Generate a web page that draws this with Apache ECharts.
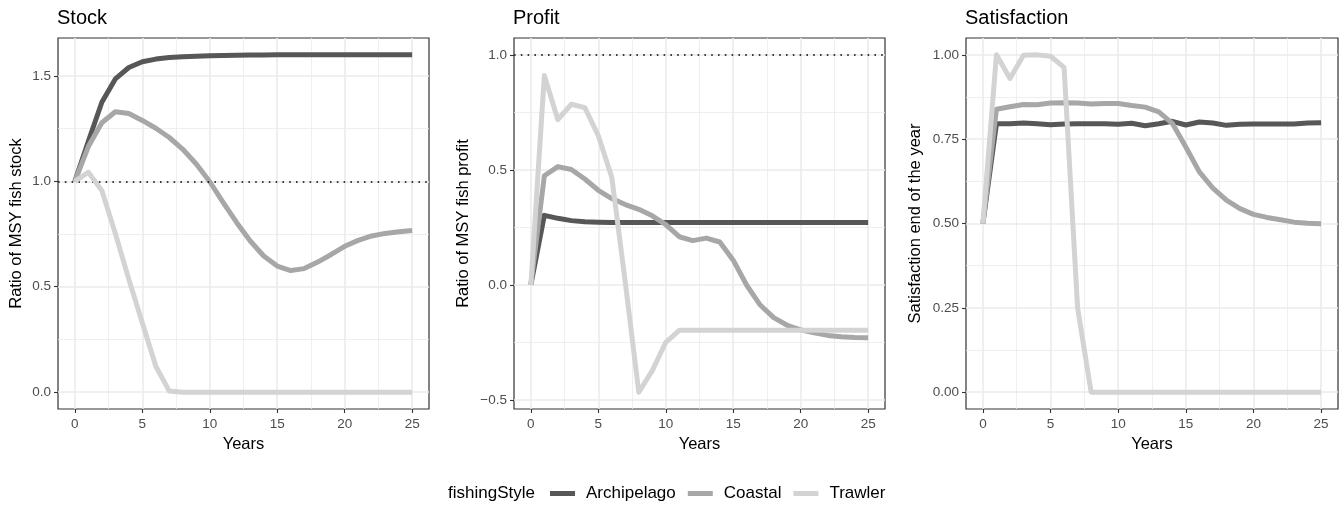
<!DOCTYPE html>
<html>
<head>
<meta charset="utf-8">
<script src="https://cdn.jsdelivr.net/npm/echarts@6/dist/echarts.min.js"></script>
<style>
  html, body { margin: 0; padding: 0; background: #fff; }
  #chart { width: 1341px; height: 521px; }
</style>
</head>
<body>
<div id="chart"></div>
<script>
// Simulated fishery outcomes per fishing style, yearly from 0 to 25
const years = [0,1,2,3,4,5,6,7,8,9,10,11,12,13,14,15,16,17,18,19,20,21,22,23,24,25];
const styles = ['Archipelago', 'Coastal', 'Trawler'];

// Stock (ratio of MSY fish stock)
const stockArchipelago = [1.000,1.190,1.375,1.486,1.540,1.567,1.580,1.587,1.591,1.594,1.596,1.597,1.598,1.599,1.599,1.600,1.600,1.600,1.600,1.600,1.600,1.600,1.600,1.600,1.600,1.600];
const stockCoastal     = [1.000,1.165,1.278,1.330,1.322,1.289,1.252,1.208,1.152,1.082,0.998,0.899,0.804,0.717,0.646,0.598,0.577,0.586,0.617,0.653,0.692,0.720,0.741,0.753,0.761,0.767];
const stockTrawler     = [1.000,1.043,0.956,0.752,0.535,0.329,0.123,0.005,0,0,0,0,0,0,0,0,0,0,0,0,0,0,0,0,0,0];

// Profit (ratio of MSY fish profit)
const profitArchipelago = [0,0.302,0.289,0.279,0.274,0.272,0.271,0.271,0.271,0.271,0.271,0.271,0.271,0.271,0.271,0.271,0.271,0.271,0.271,0.271,0.271,0.271,0.271,0.271,0.271,0.271];
const profitCoastal     = [0,0.474,0.514,0.501,0.460,0.411,0.375,0.349,0.328,0.300,0.262,0.209,0.192,0.203,0.186,0.107,-0.002,-0.088,-0.143,-0.176,-0.196,-0.209,-0.220,-0.226,-0.229,-0.230];
const profitTrawler     = [0,0.910,0.718,0.785,0.770,0.648,0.467,0.010,-0.467,-0.373,-0.250,-0.198,-0.198,-0.198,-0.198,-0.198,-0.198,-0.198,-0.198,-0.198,-0.198,-0.198,-0.198,-0.198,-0.198,-0.198];

// Satisfaction at the end of each year
const satisArchipelago = [0.5,0.796,0.796,0.798,0.796,0.793,0.795,0.796,0.796,0.796,0.794,0.797,0.790,0.796,0.803,0.792,0.801,0.798,0.791,0.794,0.795,0.795,0.795,0.795,0.798,0.799];
const satisCoastal     = [0.5,0.839,0.846,0.853,0.852,0.857,0.858,0.857,0.854,0.856,0.856,0.850,0.845,0.831,0.797,0.727,0.653,0.605,0.569,0.544,0.527,0.518,0.511,0.504,0.501,0.499];
const satisTrawler     = [0.5,1.000,0.930,0.999,1.000,0.996,0.963,0.250,0,0,0,0,0,0,0,0,0,0,0,0,0,0,0,0,0,0];

// Axis ticks
const xTicks = [0,5,10,15,20,25];
const xMinor = [2.5,7.5,12.5,17.5,22.5];
const stockTicks = [0,0.5,1,1.5];
const stockTickLabels = ['0.0','0.5','1.0','1.5'];
const stockMinor = [0.25,0.75,1.25];
const profitTicks = [-0.5,0,0.5,1];
const profitTickLabels = ['\u22120.5','0.0','0.5','1.0'];
const profitMinor = [-0.25,0.25,0.75];
const satisTicks = [0,0.25,0.5,0.75,1];
const satisTickLabels = ['0.00','0.25','0.50','0.75','1.00'];
const satisMinor = [0.125,0.375,0.625,0.875];

const colors = { Archipelago: '#575757', Coastal: '#a7a7aa', Trawler: '#d3d3d3' };
const FONT = '"Liberation Sans", Arial, Helvetica, sans-serif';

const panels = [
  { title: 'Stock', yName: 'Ratio of MSY fish stock', left: 58, width: 371, yMin: -0.080, yMax: 1.680,
    ticks: stockTicks, labels: stockTickLabels, minor: stockMinor, refLine: 1, nameGap: 33,
    data: [stockArchipelago, stockCoastal, stockTrawler] },
  { title: 'Profit', yName: 'Ratio of MSY fish profit', left: 514, width: 371, yMin: -0.540, yMax: 1.073,
    ticks: profitTicks, labels: profitTickLabels, minor: profitMinor, refLine: 1, nameGap: 42,
    data: [profitArchipelago, profitCoastal, profitTrawler] },
  { title: 'Satisfaction', yName: 'Satisfaction end of the year', left: 966, width: 372, yMin: -0.05, yMax: 1.05,
    ticks: satisTicks, labels: satisTickLabels, minor: satisMinor, refLine: null, nameGap: 42,
    data: [satisArchipelago, satisCoastal, satisTrawler] }
];

const PANEL_TOP = 38, PANEL_H = 371;
const grid = [], xAxis = [], yAxis = [], series = [], title = [];
const majorLine = { show: true, lineStyle: { color: '#ebebeb', width: 1.6 } };
const minorLine = { show: true, lineStyle: { color: '#ebebeb', width: 0.8 } };

panels.forEach((p, i) => {
  grid.push({ left: p.left, top: PANEL_TOP, width: p.width, height: PANEL_H,
    show: true, borderColor: '#333333', borderWidth: 1.2, backgroundColor: 'transparent', containLabel: false });
  title.push({ text: p.title, left: p.left - 1, top: 8, padding: 0,
    textStyle: { fontFamily: FONT, fontSize: 20, fontWeight: 'normal', color: '#000' } });

  // major x axis
  xAxis.push({ type: 'value', gridIndex: i, min: -1.25, max: 26.25, position: 'bottom',
    name: 'Years', nameLocation: 'middle', nameGap: 27,
    nameTextStyle: { fontFamily: FONT, fontSize: 16.5, color: '#000' },
    axisLine: { show: false, onZero: false },
    axisTick: { show: true, length: 4, customValues: xTicks, lineStyle: { color: '#333333', width: 1.1 } },
    axisLabel: { show: true, customValues: xTicks, margin: 8, fontFamily: FONT, fontSize: 13.5, color: '#4d4d4d' },
    splitLine: majorLine });
  // minor x grid
  xAxis.push({ type: 'value', gridIndex: i, min: -1.25, max: 26.25, position: 'bottom',
    axisLine: { show: false, onZero: false }, axisLabel: { show: false },
    axisTick: { show: false, customValues: xMinor }, splitLine: minorLine });

  // major y axis
  const labelMap = {};
  p.ticks.forEach((v, k) => { labelMap[v.toFixed(3)] = p.labels[k]; });
  yAxis.push({ type: 'value', gridIndex: i, min: p.yMin, max: p.yMax, position: 'left',
    name: p.yName, nameLocation: 'middle', nameGap: p.nameGap, nameRotate: 90,
    nameTextStyle: { fontFamily: FONT, fontSize: 16.5, color: '#000' },
    axisLine: { show: false, onZero: false },
    axisTick: { show: true, length: 4, customValues: p.ticks, lineStyle: { color: '#333333', width: 1.1 } },
    axisLabel: { show: true, customValues: p.ticks, margin: 7, fontFamily: FONT, fontSize: 13.5, color: '#4d4d4d',
      formatter: v => labelMap[Number(v).toFixed(3)] },
    splitLine: majorLine });
  yAxis.push({ type: 'value', gridIndex: i, min: p.yMin, max: p.yMax, position: 'left',
    axisLine: { show: false, onZero: false }, axisLabel: { show: false },
    axisTick: { show: false, customValues: p.minor }, splitLine: minorLine });

  styles.forEach((s, k) => {
    const ser = {
      name: s, type: 'line', xAxisIndex: 2 * i, yAxisIndex: 2 * i,
      data: years.map((yr, j) => [yr, p.data[k][j]]),
      showSymbol: false, symbol: 'none', silent: true,
      lineStyle: { color: colors[s], width: 5, cap: 'butt', join: 'round' },
      itemStyle: { color: colors[s] },
      z: 3 + k
    };
    if (k === 2 && p.refLine !== null) {
      ser.markLine = { silent: true, symbol: 'none', label: { show: false },
        lineStyle: { color: '#000', type: [1.6, 5.2], width: 1.6 },
        data: [{ yAxis: p.refLine }] };
    }
    series.push(ser);
  });
});

// legend title
title.push({ text: 'fishingStyle', left: 448, top: 485, padding: 0,
  textStyle: { fontFamily: FONT, fontSize: 17, fontWeight: 'normal', color: '#000' } });

const chart = echarts.init(document.getElementById('chart'), null, { renderer: 'canvas' });
chart.setOption({
  animation: false,
  backgroundColor: '#ffffff',
  title: title,
  grid: grid,
  xAxis: xAxis,
  yAxis: yAxis,
  legend: {
    data: styles, left: 550, top: 485, orient: 'horizontal',
    icon: 'rect', itemWidth: 25, itemHeight: 5, itemGap: 12, padding: 0,
    selectedMode: false,
    textStyle: { fontFamily: FONT, fontSize: 17, color: '#000', padding: [0, 0, 0, 6] }
  },
  series: series
});
</script>
</body>
</html>
